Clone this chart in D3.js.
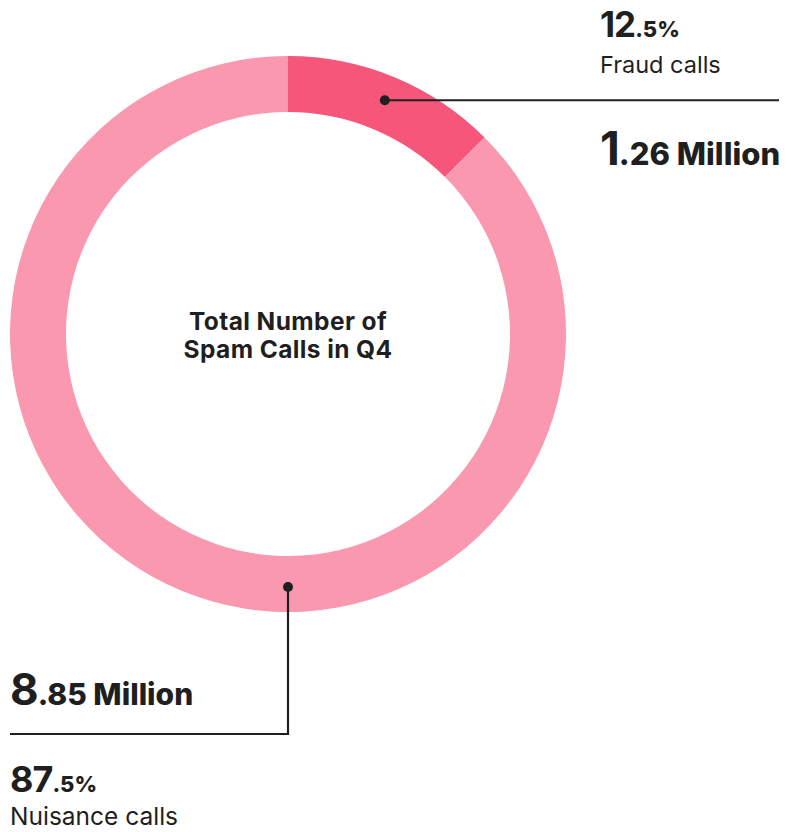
<!DOCTYPE html>
<html>
<head>
<meta charset="utf-8">
<script src="https://cdn.jsdelivr.net/npm/d3@7"></script>
<style>
  html, body { margin: 0; padding: 0; background: #fff; }
  svg { display: block; font-family: Inter, "Noto Sans", sans-serif; }
</style>
</head>
<body>
<svg id="chart" width="791" height="832"></svg>
<script>
// Q4 spam call breakdown
const categories = ["Fraud calls", "Nuisance calls"];
const sharePct = [12.5, 87.5];
const countMillions = [1.26, 8.85];
const sliceColors = ["#F5567A", "#F998AE"];
const centerTitle = ["Total Number of", "Spam Calls in Q4"];

const svg = d3.select("#chart");
const cx = 288, cy = 334;
const outerR = 278, innerR = 222;
const ink = "#1f1f1f";

const data = categories.map((c, i) => ({ name: c, share: sharePct[i], count: countMillions[i], color: sliceColors[i] }));

const pie = d3.pie().value(d => d.share).sort(null);
const arc = d3.arc().innerRadius(innerR).outerRadius(outerR);
const arcs = pie(data);

const g = svg.append("g").attr("transform", `translate(${cx},${cy})`);
g.selectAll("path.slice")
  .data(arcs)
  .join("path")
  .attr("class", "slice")
  .attr("d", arc)
  .attr("fill", d => d.data.color);

// centre title
const title = svg.append("text")
  .attr("x", cx).attr("y", 330)
  .attr("text-anchor", "middle")
  .attr("font-weight", 700)
  .attr("font-size", 24.5)
  .attr("letter-spacing", 0.4)
  .attr("fill", ink);
centerTitle.forEach((line, i) => {
  title.append("tspan").attr("x", cx).attr("dy", i === 0 ? 0 : 28).text(line);
});

// leader anchor points on the ring's mid radius
const midR = (innerR + outerR) / 2 + 3;
function pointAt(angle, r) {
  return [cx + r * Math.sin(angle), cy - r * Math.cos(angle)];
}
const fraudArc = arcs[0];
const fraudAnchor = pointAt((fraudArc.startAngle + fraudArc.endAngle) / 2, midR);
const nuisanceAnchor = pointAt(Math.PI, midR);

const lines = svg.append("g").attr("stroke", ink).attr("stroke-width", 2.2).attr("fill", "none");
lines.append("path").attr("d", d3.line()([fraudAnchor, [779, fraudAnchor[1]]]));
lines.append("path").attr("d", d3.line()([nuisanceAnchor, [nuisanceAnchor[0], 734], [10, 734]]));

svg.append("circle").attr("cx", fraudAnchor[0]).attr("cy", fraudAnchor[1]).attr("r", 5).attr("fill", ink);
svg.append("circle").attr("cx", nuisanceAnchor[0]).attr("cy", nuisanceAnchor[1]).attr("r", 5).attr("fill", ink);

// split a number into big leading part and smaller remainder
function splitNum(v, decimals) {
  const s = v.toFixed(decimals);
  const k = s.indexOf(".");
  return [s.slice(0, k), s.slice(k)];
}

function bigSmall(x, y, parts, bigSize, smallSize, suffix) {
  const t = svg.append("text").attr("x", x).attr("y", y).attr("fill", ink).attr("font-weight", 700);
  t.append("tspan").attr("font-size", bigSize).attr("letter-spacing", -1).text(parts[0]);
  t.append("tspan").attr("font-size", smallSize).attr("font-weight", 800).text(parts[1] + suffix);
  return t;
}

// fraud labels (top right)
bigSmall(600, 37, splitNum(data[0].share, 1), 35, 22, "%");
svg.append("text").attr("x", 600).attr("y", 73).attr("fill", ink)
  .attr("font-size", 23.5).attr("font-weight", 400).text(data[0].name);
bigSmall(600, 165, splitNum(data[0].count, 2), 46, 31, " Million");

// nuisance labels (bottom left)
bigSmall(10, 705, splitNum(data[1].count, 2), 44, 30, " Million");
bigSmall(10, 792, splitNum(data[1].share, 1), 36, 22, "%");
svg.append("text").attr("x", 10).attr("y", 825).attr("fill", ink)
  .attr("font-size", 24.5).attr("font-weight", 400).text(data[1].name);
</script>
</body>
</html>
